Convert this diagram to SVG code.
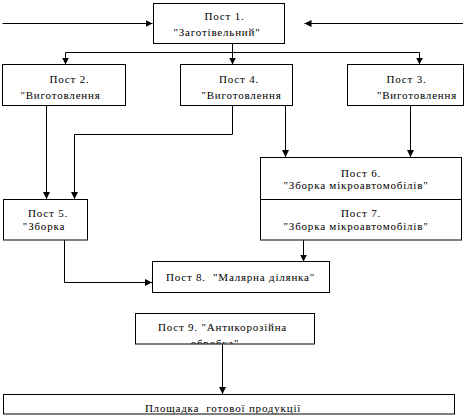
<svg xmlns="http://www.w3.org/2000/svg" width="466" height="418" viewBox="0 0 466 418">
<style>
.box{fill:#fff;stroke:#000;stroke-width:1}
.t{font-family:"Liberation Serif","DejaVu Serif","Times New Roman",serif;font-size:11px;letter-spacing:0.8px;fill:#000;text-anchor:middle;white-space:pre}
.ln{fill:none;stroke:#000;stroke-width:1}
</style>
<defs>
<marker id="ah" markerWidth="8" markerHeight="8" refX="7" refY="4" orient="auto" markerUnits="userSpaceOnUse">
<path d="M0,0.5 L7,4 L0,7.5 Z" fill="#000"/>
</marker>
<clipPath id="c9"><rect x="135.5" y="313.5" width="179" height="30.5"/></clipPath>
<clipPath id="cb"><rect x="3.5" y="394.5" width="451" height="19"/></clipPath>
</defs>
<rect width="466" height="418" fill="#fff"/>
<g id="connectors">
<path class="ln" d="M2.5,23.5 H152.5" marker-end="url(#ah)"/>
<path class="ln" d="M463,23.5 H304.5" marker-end="url(#ah)"/>
<path class="ln" d="M232.5,43.5 V52.5 M65.5,52.5 H419.5"/>
<path class="ln" d="M65.5,52.5 V64.5" marker-end="url(#ah)"/>
<path class="ln" d="M232.5,52.5 V64.5" marker-end="url(#ah)"/>
<path class="ln" d="M419.5,52.5 V64.5" marker-end="url(#ah)"/>
<path class="ln" d="M46.5,106 V199" marker-end="url(#ah)"/>
<path class="ln" d="M232.5,106 V134.5 H74.5 V199" marker-end="url(#ah)"/>
<path class="ln" d="M285.5,106 V157" marker-end="url(#ah)"/>
<path class="ln" d="M410.5,106 V157" marker-end="url(#ah)"/>
<path class="ln" d="M64.5,240 V282.5 H152" marker-end="url(#ah)"/>
<path class="ln" d="M303.5,240 V261.5" marker-end="url(#ah)"/>
<path class="ln" d="M222.5,344 V394" marker-end="url(#ah)"/>
</g>
<g id="post1">
<rect class="box" x="153.5" y="3.5" width="131" height="40"/>
<text class="t" x="224.5" y="20">Пост 1.</text>
<text class="t" x="217" y="36">"Заготівельний"</text>
</g>
<g id="post2">
<rect class="box" x="2.5" y="64.5" width="123" height="41"/>
<text class="t" x="69.5" y="83">Пост 2.</text>
<text class="t" x="60.5" y="98.5">"Виготовлення</text>
</g>
<g id="post4">
<rect class="box" x="180.5" y="64.5" width="112" height="41"/>
<text class="t" x="239" y="83">Пост 4.</text>
<text class="t" x="241.5" y="98.5">"Виготовлення</text>
</g>
<g id="post3">
<rect class="box" x="347.5" y="64.5" width="116" height="41"/>
<text class="t" x="406.5" y="83">Пост 3.</text>
<text class="t" x="417" y="98.5">"Виготовлення</text>
</g>
<g id="post6">
<rect class="box" x="260.5" y="157.5" width="201" height="42"/>
<text class="t" x="361" y="176.5">Пост 6.</text>
<text class="t" x="356" y="189">"Зборка мікроавтомобілів"</text>
</g>
<g id="post7">
<rect class="box" x="260.5" y="199.5" width="201" height="40.5"/>
<text class="t" x="361" y="217">Пост 7.</text>
<text class="t" x="356" y="230">"Зборка мікроавтомобілів"</text>
</g>
<g id="post5">
<rect class="box" x="3.5" y="199.5" width="84" height="40.5"/>
<text class="t" x="48" y="217">Пост 5.</text>
<text class="t" x="44" y="230">"Зборка</text>
</g>
<g id="post8">
<rect class="box" x="152.5" y="261.5" width="177" height="31"/>
<text class="t" x="240.5" y="280.5">Пост 8.  "Малярна ділянка"</text>
</g>
<g id="post9">
<rect class="box" x="135.5" y="313.5" width="179" height="30.5"/>
<g clip-path="url(#c9)">
<text class="t" x="222.5" y="330.5">Пост 9. "Антикорозійна</text>
<text class="t" x="215" y="346.5">обробка"</text>
</g>
</g>
<g id="product">
<rect class="box" x="3.5" y="394.5" width="451" height="19.5"/>
<g clip-path="url(#cb)">
<text class="t" x="223" y="412">Площадка  готової продукції</text>
</g>
</g>
</svg>
